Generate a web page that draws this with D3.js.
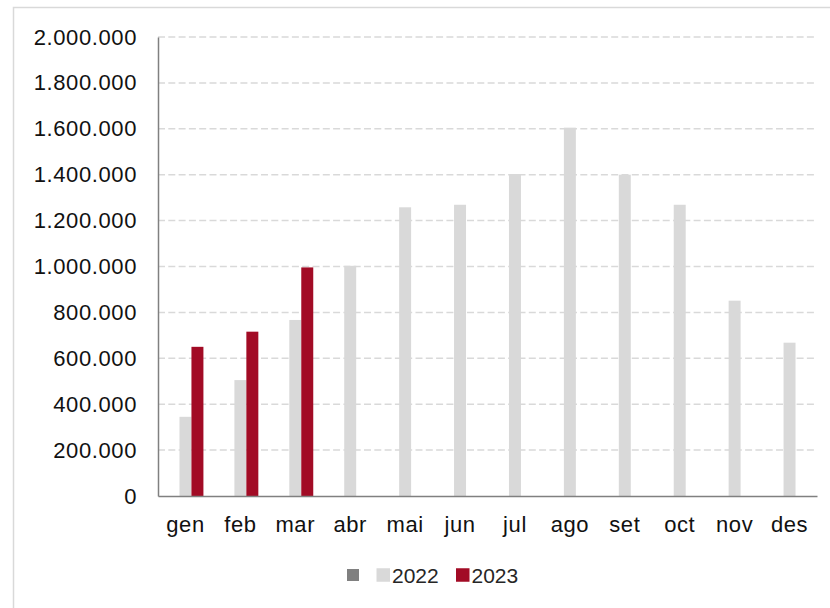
<!DOCTYPE html>
<html>
<head>
<meta charset="utf-8">
<script src="https://cdn.jsdelivr.net/npm/d3@7"></script>
<style>
    html, body { margin: 0; padding: 0; background: #fff; }
    svg { display: block; font-family: "Liberation Sans", Arial, sans-serif; }
</style>
</head>
<body>
<svg id="chart" width="830" height="608"></svg>
<script>
    var months = ['gen', 'feb', 'mar', 'abr', 'mai', 'jun', 'jul', 'ago', 'set', 'oct', 'nov', 'des'];
    var seriesNames = ['', '2022', '2023'];
    var values2022 = [345000, 505000, 767000, 1003000, 1258000, 1269000, 1403000, 1605000, 1400000, 1269000, 851000, 668000];
    var values2023 = [650000, 716000, 996000];
    var yTicks = [0, 200000, 400000, 600000, 800000, 1000000, 1200000, 1400000, 1600000, 1800000, 2000000];

    var colors = {'': '#808080', '2022': '#d9d9d9', '2023': '#a20b25'};

    var svg = d3.select('#chart'),
        plotLeft = 158, plotRight = 817, plotTop = 37, plotBottom = 496;

    // outer frame
    svg.append('rect')
        .attr('x', 13.5).attr('y', 7.5)
        .attr('width', 840).attr('height', 640)
        .attr('fill', 'none')
        .attr('stroke', '#d9d9d9')
        .attr('stroke-width', 1.5);

    var x = d3.scaleBand().domain(months).range([plotLeft, plotRight]).paddingInner(0).paddingOuter(0);
    var xSub = d3.scaleBand().domain(seriesNames).range([9.5, x.bandwidth() - 9.5]);
    var y = d3.scaleLinear().domain([0, 2000000]).range([plotBottom, plotTop]);

    var fmt = d3.formatLocale({decimal: ',', thousands: '.', grouping: [3], currency: ['', '€']}).format(',d');

    // gridlines
    svg.append('g')
        .selectAll('line')
        .data(yTicks.filter(function (d) { return d > 0; }))
        .enter().append('line')
        .attr('x1', plotLeft).attr('x2', plotRight)
        .attr('y1', function (d) { return y(d); })
        .attr('y2', function (d) { return y(d); })
        .attr('stroke', '#d9d9d9')
        .attr('stroke-width', 1.5)
        .attr('stroke-dasharray', '7,3.3');

    // bars
    var rows = [];
    months.forEach(function (m, i) {
        if (values2022[i] != null) rows.push({month: m, series: '2022', value: values2022[i]});
        if (values2023[i] != null) rows.push({month: m, series: '2023', value: values2023[i]});
    });

    svg.append('g')
        .selectAll('rect')
        .data(rows)
        .enter().append('rect')
        .attr('x', function (d) { return x(d.month) + xSub(d.series); })
        .attr('width', xSub.bandwidth())
        .attr('y', function (d) { return y(d.value); })
        .attr('height', function (d) { return y(0) - y(d.value); })
        .attr('fill', function (d) { return colors[d.series]; });

    // y axis
    var yAxis = svg.append('g')
        .attr('transform', 'translate(' + plotLeft + ',0)')
        .call(d3.axisLeft(y).tickValues(yTicks).tickSize(0).tickPadding(21).tickFormat(fmt));
    yAxis.select('.domain').attr('stroke', '#808080').attr('stroke-width', 1.5);
    yAxis.selectAll('text')
        .attr('font-size', 22).attr('fill', '#111')
        .attr('letter-spacing', '0.6px')
        .attr('font-family', '"Liberation Sans", Arial, sans-serif');

    // x axis
    var xAxis = svg.append('g')
        .attr('transform', 'translate(0,' + plotBottom + ')')
        .call(d3.axisBottom(x).tickSize(0).tickPadding(20));
    xAxis.select('.domain').attr('stroke', '#808080').attr('stroke-width', 1.5);
    xAxis.selectAll('text')
        .attr('font-size', 22).attr('fill', '#111')
        .attr('letter-spacing', '0.6px')
        .attr('font-family', '"Liberation Sans", Arial, sans-serif');

    // legend
    var legend = [
        {name: '', sx: 347, size: 12},
        {name: '2022', sx: 376.5, size: 13.5},
        {name: '2023', sx: 456, size: 13.5}
    ];
    var lg = svg.append('g').selectAll('g').data(legend).enter().append('g');
    lg.append('rect')
        .attr('x', function (d) { return d.sx; })
        .attr('y', function (d) { return 575 - d.size / 2; })
        .attr('width', function (d) { return d.size; })
        .attr('height', function (d) { return d.size; })
        .attr('fill', function (d) { return colors[d.name]; });
    lg.append('text')
        .attr('x', function (d) { return d.sx + d.size + 2; })
        .attr('y', 582.5)
        .attr('font-size', 21)
        .attr('fill', '#262626')
        .text(function (d) { return d.name; });
</script>
</body>
</html>
